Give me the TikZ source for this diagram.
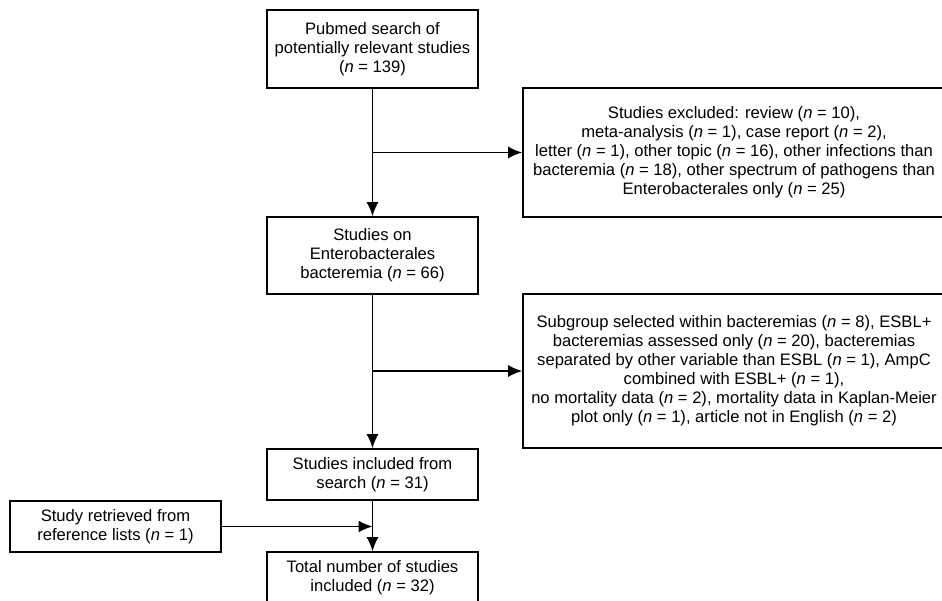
\documentclass[tikz,border=0pt]{standalone}
\usepackage{fontspec}
\setmainfont{Liberation Sans}
\usetikzlibrary{arrows.meta}
\newcommand{\nn}{\textit{n}}
\begin{document}
\begin{tikzpicture}[
  x=1pt, y=-1pt,
  stage/.style={rectangle, draw=black, line width=1.6pt, fill=white, minimum width=211pt, align=center, font=\fontsize{16.6}{19}\selectfont, inner sep=2pt},
  excl/.style={rectangle, draw=black, line width=1.6pt, fill=white, minimum width=422pt, align=center, font=\fontsize{16.6}{19}\selectfont, inner sep=2pt},
  arrow/.style={-{Latex[length=14pt,width=12pt]}, line width=1.6pt, color=black}
]
  \useasboundingbox (0,0) rectangle (942,600);
  \node[stage, minimum height=78pt] (search) at (372.5, 49) {Pubmed search of\\potentially relevant studies\\(\nn{} = 139)};
  \node[excl, minimum height=129pt] (ex1) at (734, 152.5) {Studies excluded: review (\nn{} = 10),\\meta-analysis (\nn{} = 1), case report (\nn{} = 2),\\letter (\nn{} = 1), other topic (\nn{} = 16), other infections than\\bacteremia (\nn{} = 18), other spectrum of pathogens than\\Enterobacterales only (\nn{} = 25)};
  \node[stage, minimum height=77pt] (bact) at (372.5, 255.5) {Studies on\\Enterobacterales\\bacteremia (\nn{} = 66)};
  \node[excl, minimum height=154pt] (ex2) at (734, 371) {Subgroup selected within bacteremias (\nn{} = 8), ESBL+\\bacteremias assessed only (\nn{} = 20), bacteremias\\separated by other variable than ESBL (\nn{} = 1), AmpC\\combined with ESBL+ (\nn{} = 1),\\no mortality data (\nn{} = 2), mortality data in Kaplan-Meier\\plot only (\nn{} = 1), article not in English (\nn{} = 2)};
  \node[stage, minimum height=51pt] (incl) at (372.5, 474.5) {Studies included from\\search (\nn{} = 31)};
  \node[stage, minimum height=51pt] (retr) at (115.5, 526.5) {Study retrieved from\\reference lists (\nn{} = 1)};
  \node[stage, minimum height=51pt] (total) at (372.5, 577.5) {Total number of studies\\included (\nn{} = 32)};

  \coordinate (b1) at (search.south |- ex1.west);
  \coordinate (b2) at (bact.south |- ex2.west);
  \coordinate (b3) at (incl.south |- retr.east);

  % search -> screened
  \draw[arrow] (search) -- (bact);
  \draw[arrow] (b1) -- (ex1);

  % screened -> included
  \draw[arrow] (bact) -- (incl);
  \draw[arrow] (b2) -- (ex2);

  % included -> total
  \draw[arrow] (incl) -- (total);
  \draw[arrow] (retr) -- (b3);
\end{tikzpicture}
\end{document}
